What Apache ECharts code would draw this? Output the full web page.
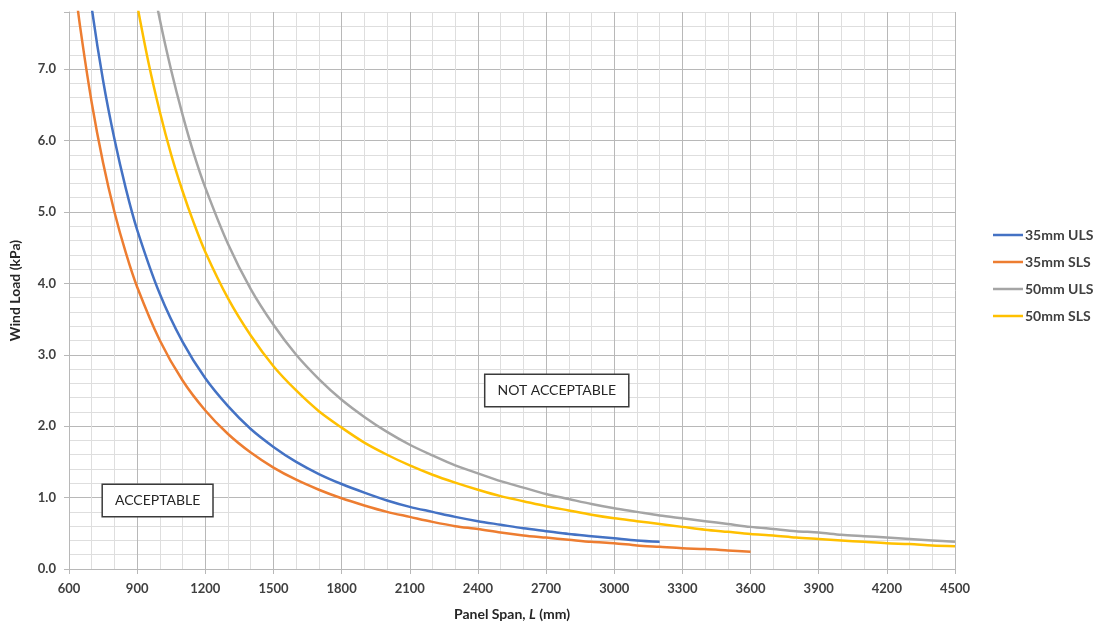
<!DOCTYPE html>
<html>
<head>
<meta charset="utf-8">
<script src="https://cdn.jsdelivr.net/npm/echarts@6/dist/echarts.min.js"></script>
<style>
  html, body { margin: 0; padding: 0; background: #ffffff; overflow: hidden; }
  #chart { width: 1094px; height: 626px; }
</style>
</head>
<body>
<div id="chart"></div>
<script>
// ---- data ----
const seriesNames = ['35mm ULS', '35mm SLS', '50mm ULS', '50mm SLS'];

const span35ULS = [650,700,750,800,850,900,1000,1100,1200,1300,1400,1500,1600,1700,1800,1900,2000,2100,2200,2300,2400,2500,2600,2700,2800,2900,3000,3100,3200];
const load35ULS = [9.11,7.86,6.84,6.02,5.33,4.75,3.85,3.18,2.67,2.28,1.96,1.71,1.50,1.33,1.19,1.07,0.96,0.87,0.80,0.73,0.67,0.62,0.57,0.53,0.49,0.46,0.43,0.40,0.38];

const span35SLS = [620,650,700,750,800,850,900,1000,1100,1200,1300,1400,1500,1600,1700,1800,1900,2000,2100,2200,2300,2400,2500,2600,2700,2800,2900,3000,3100,3200,3300,3400,3500,3600];
const load35SLS = [8.32,7.57,6.53,5.69,5.00,4.43,3.95,3.20,2.64,2.22,1.89,1.63,1.42,1.25,1.11,0.99,0.89,0.80,0.73,0.66,0.60,0.56,0.51,0.47,0.44,0.41,0.38,0.36,0.33,0.31,0.29,0.28,0.26,0.24];

const span50ULS = [950,1000,1050,1100,1150,1200,1300,1400,1500,1600,1700,1800,1900,2000,2100,2200,2300,2400,2500,2600,2700,2800,2900,3000,3100,3200,3300,3400,3500,3600,3700,3800,3900,4000,4100,4200,4300,4400,4500];
const load50ULS = [8.52,7.69,6.98,6.36,5.81,5.34,4.55,3.92,3.42,3.00,2.66,2.37,2.13,1.92,1.74,1.59,1.45,1.34,1.23,1.14,1.05,0.98,0.91,0.85,0.80,0.75,0.71,0.67,0.63,0.59,0.56,0.53,0.51,0.48,0.46,0.44,0.42,0.40,0.38];

const span50SLS = [880,900,950,1000,1050,1100,1150,1200,1300,1400,1500,1600,1700,1800,1900,2000,2100,2200,2300,2400,2500,2600,2700,2800,2900,3000,3100,3200,3300,3400,3500,3600,3700,3800,3900,4000,4100,4200,4300,4400,4500];
const load50SLS = [8.26,7.90,7.09,6.40,5.80,5.29,4.84,4.44,3.79,3.27,2.84,2.50,2.21,1.98,1.77,1.60,1.45,1.32,1.21,1.11,1.02,0.95,0.88,0.82,0.76,0.71,0.67,0.63,0.59,0.55,0.52,0.49,0.47,0.44,0.42,0.40,0.38,0.36,0.35,0.33,0.32];

const xRange = [600, 4500];
const yRange = [0, 7.8];
const annotationTexts = ['ACCEPTABLE', 'NOT ACCEPTABLE'];
const annotationSpans = [990, 2747];
const annotationLoads = [0.96, 2.5];

// ---- styles ----
const colors = ['#4472C4', '#ED7D31', '#A5A5A5', '#FFC000'];
const majorGrid = '#b8b8b8';
const minorGrid = '#dedede';
const FONT = 'Lato, "Open Sans", "Liberation Sans", sans-serif';

function pairs(xs, ys) { return xs.map((x, i) => [x, ys[i]]); }
const allData = [
  pairs(span35ULS, load35ULS),
  pairs(span35SLS, load35SLS),
  pairs(span50ULS, load50ULS),
  pairs(span50SLS, load50SLS)
];

const series = seriesNames.map((name, i) => ({
  name: name,
  type: 'line',
  data: allData[i],
  smooth: 0.3,
  showSymbol: false,
  symbol: 'none',
  clip: true,
  yAxisIndex: 0,
  lineStyle: { color: colors[i], width: 2.5 },
  itemStyle: { color: colors[i] },
  z: 3
}));

series.push({
  type: 'line',
  data: [],
  yAxisIndex: 0,
  silent: true,
  markPoint: {
    silent: true,
    symbol: 'circle',
    symbolSize: 1,
    itemStyle: { color: 'rgba(0,0,0,0)' },
    data: annotationTexts.map((t, i) => ({
      coord: [annotationSpans[i], annotationLoads[i]],
      value: t
    })),
    label: {
      show: true,
      position: 'inside',
      formatter: p => p.value,
      color: '#262626',
      fontFamily: FONT,
      fontSize: 14,
      backgroundColor: '#ffffff',
      borderColor: '#3a3a3a',
      borderWidth: 1.5,
      padding: [9, 12, 8, 12]
    }
  },
  z: 5
});

const chart = echarts.init(document.getElementById('chart'), null, { renderer: 'canvas' });
chart.setOption({
  animation: false,
  backgroundColor: '#ffffff',
  textStyle: { fontFamily: FONT },
  grid: { left: 63, right: 139, top: 12, bottom: 53, containLabel: false },
  legend: {
    data: seriesNames,
    orient: 'vertical',
    left: 993,
    top: 228,
    padding: 0,
    icon: 'rect',
    itemWidth: 30,
    itemHeight: 2.5,
    itemGap: 13,
    textStyle: { color: '#404040', fontSize: 14, fontWeight: 'bold', fontFamily: FONT, padding: [0, 0, 0, -3] }
  },
  xAxis: {
    type: 'value',
    min: xRange[0],
    max: xRange[1],
    interval: 300,
    name: '{b|Panel Span, }{i|L}{b| (mm)}',
    nameLocation: 'middle',
    nameGap: 38,
    nameTextStyle: {
      rich: {
        b: { fontWeight: 'bold', fontSize: 14, color: '#262626', fontFamily: FONT },
        i: { fontWeight: 'bold', fontStyle: 'italic', fontSize: 14, color: '#262626', fontFamily: FONT }
      }
    },
    axisLine: { show: true, lineStyle: { color: majorGrid, width: 1 } },
    axisTick: { show: true, length: 5, lineStyle: { color: majorGrid } },
    axisLabel: { color: '#404040', fontSize: 13, fontWeight: 'bold', margin: 13, fontFamily: FONT, formatter: v => String(v) },
    splitLine: { show: true, lineStyle: { color: majorGrid, width: 1 } },
    minorTick: { show: false, splitNumber: 3 },
    minorSplitLine: { show: true, lineStyle: { color: minorGrid, width: 1 } }
  },
  yAxis: [
    {
      type: 'value',
      min: yRange[0],
      max: yRange[1],
      interval: 0.2,
      axisLine: { show: true, lineStyle: { color: majorGrid } },
      axisTick: { show: false },
      axisLabel: { show: false },
      splitLine: { show: true, lineStyle: { color: [majorGrid, minorGrid, minorGrid, minorGrid, minorGrid], width: 1 } }
    },
    {
      type: 'value',
      position: 'left',
      min: yRange[0],
      max: yRange[1],
      interval: 1,
      name: 'Wind Load (kPa)',
      nameLocation: 'middle',
      nameGap: 47,
      nameTextStyle: { fontWeight: 'bold', fontSize: 14, color: '#262626', fontFamily: FONT },
      axisLine: { show: false },
      axisTick: { show: true, length: 5, lineStyle: { color: majorGrid } },
      axisLabel: {
        color: '#404040', fontSize: 13, fontWeight: 'bold', margin: 13, fontFamily: FONT,
        formatter: v => (Math.abs(v - Math.round(v)) < 1e-6 ? v.toFixed(1) : '')
      },
      splitLine: { show: false }
    }
  ],
  series: series
});
</script>
</body>
</html>
